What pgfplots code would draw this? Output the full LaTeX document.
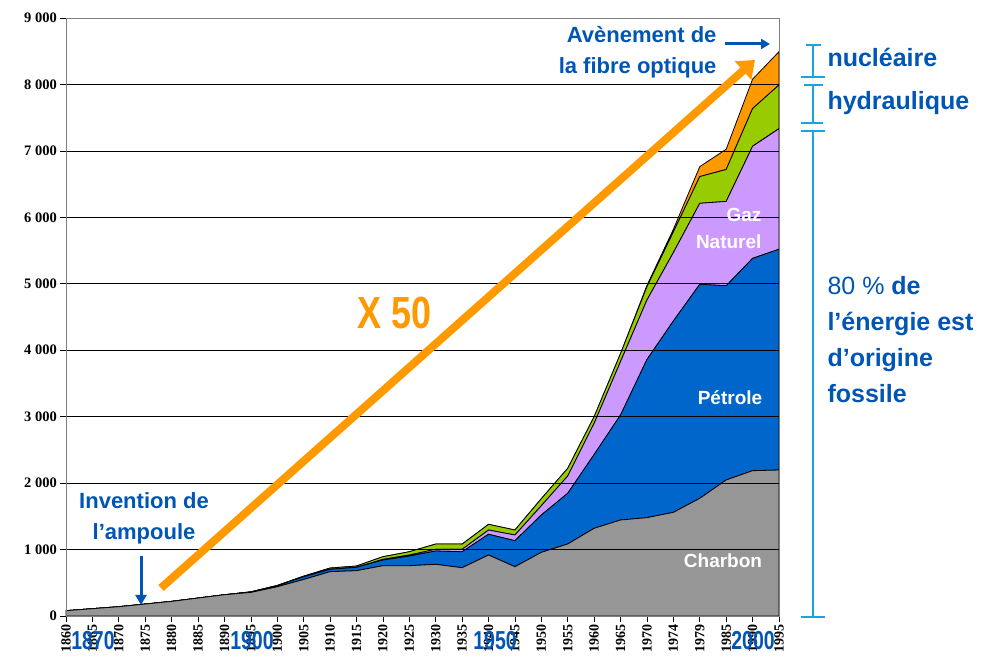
\documentclass[border=0pt]{standalone}
\usepackage{pgfplots}
\pgfplotsset{compat=1.18}
\usepackage{pgfplotstable}
\usepackage{fontspec}
\setmainfont{Liberation Sans}
\newfontfamily\serif{Liberation Serif}
\usetikzlibrary{arrows.meta}
\definecolor{cgray}{HTML}{969696}
\definecolor{cblue}{HTML}{0066CC}
\definecolor{cpurple}{HTML}{CC99FF}
\definecolor{cgreen}{HTML}{99CC00}
\definecolor{corange}{HTML}{FF9900}
\definecolor{tblue}{HTML}{0055B5}
\definecolor{ccyan}{HTML}{1BA5DE}
\pgfplotstableread{
i char petr gaz hyd nuc
0 80 0 0 0 0
1 110 0 0 0 0
2 140 0 0 0 0
3 180 0 0 0 0
4 220 0 0 0 0
5 270 0 0 0 0
6 320 0 0 0 0
7 355 8 0 0 0
8 440 15 0 5 0
9 550 40 0 10 0
10 667 35 0 20 0
11 682 50 0 20 0
12 757 85 10 40 0
13 757 145 15 50 0
14 778 200 26 79 0
15 727 240 36 79 0
16 918 312 64 86 0
17 742 391 86 75 0
18 958 562 140 106 0
19 1084 763 260 116 0
20 1320 1110 470 100 0
21 1445 1580 805 120 0
22 1480 2380 896 200 20
23 1560 2880 1030 310 40
24 1771 3221 1219 402 150
25 2047 2923 1270 480 305
26 2187 3195 1688 567 442
27 2197 3323 1815 657 501
}\data
\begin{document}
\begin{tikzpicture}
\useasboundingbox (0,0) rectangle (985pt,663pt);
\begin{axis}[
  at={(66pt,47pt)}, anchor=south west,
  scale only axis, width=713pt, height=598pt,
  xmin=0, xmax=27, ymin=0, ymax=9000,
  xtick={0,...,27},
  xticklabels={1860,1865,1870,1875,1880,1885,1890,1895,1900,1905,1910,1915,1920,1925,1930,1935,1940,1945,1950,1955,1960,1965,1970,1974,1979,1985,1990,1995},
  ytick={0,1000,2000,3000,4000,5000,6000,7000,8000,9000},
  yticklabels={0,1 000,2 000,3 000,4 000,5 000,6 000,7 000,8 000,9 000},
  xtick pos=left, ytick pos=left,
  ymajorgrids, grid style={black, line width=0.7pt},
  axis line style={gray, line width=0.8pt},
  tick style={black, line width=0.7pt},
  tick align=outside, major tick length=6pt,
  xticklabel style={rotate=90, anchor=east, inner sep=2pt, font=\serif\bfseries\fontsize{14}{14}\selectfont},
  yticklabel style={anchor=east, inner sep=3pt, font=\serif\bfseries\fontsize{14.5}{14.5}\selectfont},
  stack plots=y, area style, clip=false,
]
\addplot[fill=cgray, draw=black, line width=0.8pt] table[x=i,y=char]{\data} \closedcycle;
\addplot[fill=cblue, draw=black, line width=0.8pt] table[x=i,y=petr]{\data} \closedcycle;
\addplot[fill=cpurple, draw=black, line width=0.8pt] table[x=i,y=gaz]{\data} \closedcycle;
\addplot[fill=cgreen, draw=black, line width=0.8pt] table[x=i,y=hyd]{\data} \closedcycle;
\addplot[fill=corange, draw=black, line width=0.8pt] table[x=i,y=nuc]{\data} \closedcycle;
\draw[black, line width=0.9pt] (axis cs:0,0) -- (axis cs:0,9000);
\draw[black, line width=0.9pt] (axis cs:0,0) -- (axis cs:27,0);
\end{axis}
\begin{scope}[x=1pt, y=-1pt, shift={(0pt,663pt)}]
% orange arrow
\draw[corange, line width=8pt, -{Triangle[length=16pt, width=24pt]}] (161,588) -- (755,60);
\node[corange, font=\bfseries\fontsize{45}{45}\selectfont, xscale=0.8] at (395,313) {X 50};
% fibre optique
\node[tblue, font=\bfseries\fontsize{22}{31}\selectfont, align=right, anchor=east] at (720,52) {Avènement de\\la fibre optique};
\draw[tblue, line width=3pt, -{Triangle[length=9pt, width=10pt]}] (725,44) -- (770,44);
% ampoule
\node[tblue, font=\bfseries\fontsize{22}{31}\selectfont, align=center] at (144,518) {Invention de\\l’ampoule};
\draw[tblue, line width=3pt, -{Triangle[length=10pt, width=11pt]}] (141,556) -- (141,605);
% inner labels
\node[white, font=\bfseries\fontsize{19}{27}\selectfont, align=right, anchor=east] at (765,228) {Gaz\\Naturel};
\node[white, font=\bfseries\fontsize{19}{19}\selectfont] at (730,398) {Pétrole};
\node[white, font=\bfseries\fontsize{19}{19}\selectfont] at (723,561) {Charbon};
% brackets
\draw[ccyan, line width=1.2pt] (813,45) -- (813,77) (806,45) -- (821,45) (801,77) -- (825,77);
\draw[ccyan, line width=1.2pt] (813,85) -- (813,123) (804,85) -- (823,85) (801,123) -- (823,123);
\draw[ccyan, line width=1.2pt] (813,131) -- (813,617) (801,131) -- (825,131) (801,617) -- (825,617);
\node[tblue, font=\bfseries\fontsize{25}{25}\selectfont, anchor=west] at (824,57) {nucléaire};
\node[tblue, font=\bfseries\fontsize{25}{25}\selectfont, anchor=west] at (824,103) {hydraulique};
\node[tblue, font=\bfseries\fontsize{25}{36}\selectfont, align=left, anchor=west] at (824,340) {{\mdseries 80 \%} de\\l’énergie est\\d’origine\\fossile};
% year labels
\node[tblue, font=\bfseries\fontsize{26}{26}\selectfont, xscale=0.75] at (93,641) {1870};
\node[tblue, font=\bfseries\fontsize{26}{26}\selectfont, xscale=0.75] at (252,641) {1900};
\node[tblue, font=\bfseries\fontsize{26}{26}\selectfont, xscale=0.75] at (495,641) {1950};
\node[tblue, font=\bfseries\fontsize{26}{26}\selectfont, xscale=0.75] at (753,641) {2000};
\end{scope}
\end{tikzpicture}
\end{document}
